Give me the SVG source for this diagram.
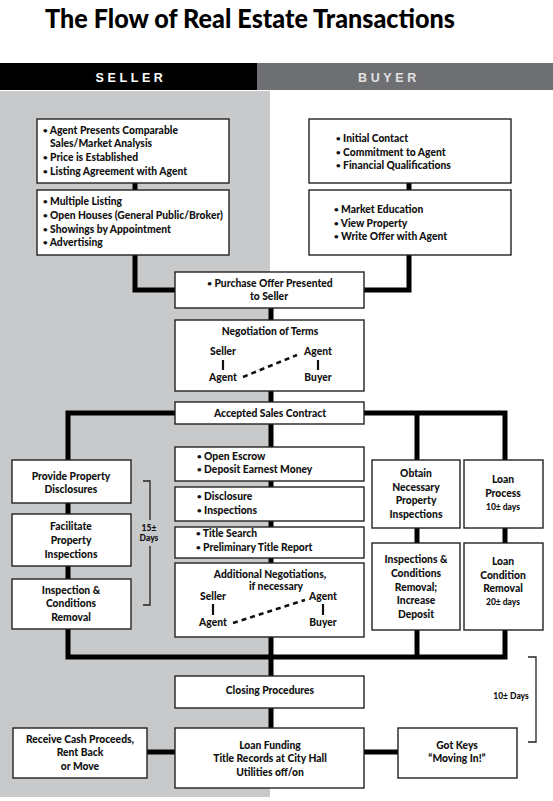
<svg xmlns="http://www.w3.org/2000/svg" width="553" height="801" viewBox="0 0 553 801">
<style>
.t{font-family:Lato,"Liberation Sans",sans-serif;font-weight:900;font-size:10.3px;fill:#111}
.c{text-anchor:middle}
.s{font-size:8.5px}
.b{font-size:8px}
.box{fill:#fff;stroke:#222;stroke-width:1.4}
.ln{fill:none;stroke:#000;stroke-width:5;stroke-linejoin:miter;stroke-linecap:butt}
.bar{stroke:#111;stroke-width:2.2}
.dash{stroke:#111;stroke-width:2.6;stroke-dasharray:5 4}
.br{fill:none;stroke:#222;stroke-width:1.3}
</style>
<rect x="0" y="0" width="553" height="801" fill="#fff"/>
<rect x="0" y="91" width="270" height="706" fill="#c8c9cb"/>
<rect x="0" y="63" width="257" height="27" fill="#000"/>
<rect x="257" y="63" width="296" height="27" fill="#6e6f73"/>
<text x="250" y="28" class="c" textLength="410" lengthAdjust="spacingAndGlyphs" style="font-family:Lato,'Liberation Sans',sans-serif;font-weight:900;font-size:26px;fill:#000">The Flow of Real Estate Transactions</text>
<text x="131" y="82" class="c" style="font-family:'Liberation Sans',sans-serif;font-weight:700;font-size:12.5px;letter-spacing:3.6px;fill:#fff">SELLER</text>
<text x="389" y="82" class="c" style="font-family:'Liberation Sans',sans-serif;font-weight:700;font-size:12.5px;letter-spacing:3.6px;fill:#e2e2e4">BUYER</text>

<g id="connectors">
<polyline class="ln" points="135,183 135,190"/>
<polyline class="ln" points="135,255 135,290 175,290"/>
<polyline class="ln" points="409,183 409,190"/>
<polyline class="ln" points="409,255 409,290 364,290"/>
<polyline class="ln" points="271,308 271,320"/>
<polyline class="ln" points="271,391 271,402"/>
<polyline class="ln" points="175,413 68,413 68,460"/>
<polyline class="ln" points="364,413 505,413 505,460"/>
<polyline class="ln" points="417,413 417,460"/>
<polyline class="ln" points="271,424 271,447"/>
<polyline class="ln" points="271,481 271,487"/>
<polyline class="ln" points="271,521 271,527"/>
<polyline class="ln" points="271,558 271,563"/>
<polyline class="ln" points="68,503 68,514"/>
<polyline class="ln" points="68,566 68,579"/>
<polyline class="ln" points="417,528 417,543"/>
<polyline class="ln" points="505,528 505,543"/>
<polyline class="ln" points="68,629 68,657 505,657 505,630"/>
<polyline class="ln" points="417,630 417,657"/>
<polyline class="ln" points="271,637 271,676"/>
<polyline class="ln" points="271,708 271,728"/>
<polyline class="ln" points="147,752 175,752"/>
<polyline class="ln" points="364,752 398,752"/>
</g>

<g id="listing">
<rect class="box" x="37" y="119" width="192" height="64"/>
<text class="t" x="43" y="134"><tspan class="b" dy="-1.5">•</tspan><tspan dy="1.5"> Agent Presents Comparable</tspan></text>
<text class="t" x="50" y="147">Sales/Market Analysis</text>
<text class="t" x="43" y="161"><tspan class="b" dy="-1.5">•</tspan><tspan dy="1.5"> Price is Established</tspan></text>
<text class="t" x="43" y="175"><tspan class="b" dy="-1.5">•</tspan><tspan dy="1.5"> Listing Agreement with Agent</tspan></text>
</g>
<g id="marketing">
<rect class="box" x="37" y="190" width="192" height="65"/>
<text class="t" x="43" y="205"><tspan class="b" dy="-1.5">•</tspan><tspan dy="1.5"> Multiple Listing</tspan></text>
<text class="t" x="43" y="219"><tspan class="b" dy="-1.5">•</tspan><tspan dy="1.5"> Open Houses (General Public/Broker)</tspan></text>
<text class="t" x="43" y="233"><tspan class="b" dy="-1.5">•</tspan><tspan dy="1.5"> Showings by Appointment</tspan></text>
<text class="t" x="43" y="246"><tspan class="b" dy="-1.5">•</tspan><tspan dy="1.5"> Advertising</tspan></text>
</g>
<g id="buyer-contact">
<rect class="box" x="309" y="119" width="202" height="64"/>
<text class="t" x="336" y="142"><tspan class="b" dy="-1.5">•</tspan><tspan dy="1.5"> Initial Contact</tspan></text>
<text class="t" x="336" y="156"><tspan class="b" dy="-1.5">•</tspan><tspan dy="1.5"> Commitment to Agent</tspan></text>
<text class="t" x="336" y="169"><tspan class="b" dy="-1.5">•</tspan><tspan dy="1.5"> Financial Qualifications</tspan></text>
</g>
<g id="buyer-search">
<rect class="box" x="309" y="190" width="202" height="65"/>
<text class="t" x="334" y="213"><tspan class="b" dy="-1.5">•</tspan><tspan dy="1.5"> Market Education</tspan></text>
<text class="t" x="334" y="227"><tspan class="b" dy="-1.5">•</tspan><tspan dy="1.5"> View Property</tspan></text>
<text class="t" x="334" y="240"><tspan class="b" dy="-1.5">•</tspan><tspan dy="1.5"> Write Offer with Agent</tspan></text>
</g>
<g id="purchase-offer">
<rect class="box" x="175" y="272" width="189" height="36"/>
<text class="t c" x="270" y="287"><tspan class="b" dy="-1.5">•</tspan><tspan dy="1.5"> Purchase Offer Presented</tspan></text>
<text class="t c" x="269" y="300">to Seller</text>
</g>
<g id="negotiation">
<rect class="box" x="175" y="320" width="189" height="71"/>
<text class="t c" x="270" y="335">Negotiation of Terms</text>
<text class="t c" x="223" y="355">Seller</text>
<line class="bar" x1="223" y1="360" x2="223" y2="370"/>
<text class="t c" x="223" y="381">Agent</text>
<text class="t c" x="318" y="355">Agent</text>
<line class="bar" x1="318" y1="360" x2="318" y2="370"/>
<text class="t c" x="318" y="381">Buyer</text>
<line class="dash" x1="243" y1="377" x2="297" y2="355"/>
</g>
<g id="accepted">
<rect class="box" x="175" y="402" width="189" height="22"/>
<text class="t c" x="270" y="417">Accepted Sales Contract</text>
</g>
<g id="disclosures">
<rect class="box" x="12" y="460" width="119" height="43"/>
<text class="t c" x="71" y="480">Provide Property</text>
<text class="t c" x="71" y="493">Disclosures</text>
</g>
<g id="facilitate">
<rect class="box" x="12" y="514" width="119" height="52"/>
<text class="t c" x="71" y="530">Facilitate</text>
<text class="t c" x="71" y="544">Property</text>
<text class="t c" x="71" y="558">Inspections</text>
</g>
<g id="seller-removal">
<rect class="box" x="12" y="579" width="119" height="50"/>
<text class="t c" x="71" y="594">Inspection &amp;</text>
<text class="t c" x="71" y="607">Conditions</text>
<text class="t c" x="71" y="621">Removal</text>
</g>
<g id="bracket-15">
<polyline class="br" points="143,481 150,481 150,520"/>
<polyline class="br" points="150,546 150,605 143,605"/>
<text class="t c s" x="149" y="531">15±</text>
<text class="t c s" x="149" y="541">Days</text>
</g>
<g id="escrow">
<rect class="box" x="175" y="447" width="189" height="34"/>
<text class="t" x="197" y="460"><tspan class="b" dy="-1.5">•</tspan><tspan dy="1.5"> Open Escrow</tspan></text>
<text class="t" x="197" y="473"><tspan class="b" dy="-1.5">•</tspan><tspan dy="1.5"> Deposit Earnest Money</tspan></text>
</g>
<g id="disclosure">
<rect class="box" x="175" y="487" width="189" height="34"/>
<text class="t" x="197" y="500"><tspan class="b" dy="-1.5">•</tspan><tspan dy="1.5"> Disclosure</tspan></text>
<text class="t" x="197" y="514"><tspan class="b" dy="-1.5">•</tspan><tspan dy="1.5"> Inspections</tspan></text>
</g>
<g id="title">
<rect class="box" x="175" y="527" width="189" height="31"/>
<text class="t" x="196" y="537"><tspan class="b" dy="-1.5">•</tspan><tspan dy="1.5"> Title Search</tspan></text>
<text class="t" x="196" y="551"><tspan class="b" dy="-1.5">•</tspan><tspan dy="1.5"> Preliminary Title Report</tspan></text>
</g>
<g id="additional">
<rect class="box" x="175" y="563" width="189" height="74"/>
<text class="t c" x="270" y="578">Additional Negotiations,</text>
<text class="t c" x="276" y="590">if necessary</text>
<text class="t c" x="213" y="600">Seller</text>
<line class="bar" x1="213" y1="604" x2="213" y2="615"/>
<text class="t c" x="213" y="626">Agent</text>
<text class="t c" x="323" y="600">Agent</text>
<line class="bar" x1="323" y1="604" x2="323" y2="615"/>
<text class="t c" x="323" y="626">Buyer</text>
<line class="dash" x1="233" y1="623" x2="305" y2="600"/>
</g>
<g id="obtain">
<rect class="box" x="372" y="460" width="88" height="68"/>
<text class="t c" x="416" y="477">Obtain</text>
<text class="t c" x="416" y="491">Necessary</text>
<text class="t c" x="416" y="504">Property</text>
<text class="t c" x="416" y="518">Inspections</text>
</g>
<g id="loan-process">
<rect class="box" x="464" y="460" width="79" height="68"/>
<text class="t c" x="503" y="483">Loan</text>
<text class="t c" x="503" y="497">Process</text>
<text class="t c s" x="503" y="510">10± days</text>
</g>
<g id="buyer-removal">
<rect class="box" x="372" y="543" width="88" height="87"/>
<text class="t c" x="416" y="563">Inspections &amp;</text>
<text class="t c" x="416" y="577">Conditions</text>
<text class="t c" x="416" y="591">Removal;</text>
<text class="t c" x="416" y="604">Increase</text>
<text class="t c" x="416" y="618">Deposit</text>
</g>
<g id="loan-removal">
<rect class="box" x="464" y="543" width="79" height="87"/>
<text class="t c" x="503" y="565">Loan</text>
<text class="t c" x="503" y="579">Condition</text>
<text class="t c" x="503" y="592">Removal</text>
<text class="t c s" x="503" y="605">20± days</text>
</g>
<g id="bracket-10">
<polyline class="br" points="528,657 536,657 536,742 528,742"/>
<text class="t c s" x="511" y="699">10± Days</text>
</g>
<g id="closing">
<rect class="box" x="175" y="676" width="189" height="32"/>
<text class="t c" x="270" y="694">Closing Procedures</text>
</g>
<g id="funding">
<rect class="box" x="175" y="728" width="189" height="60"/>
<text class="t c" x="270" y="749">Loan Funding</text>
<text class="t c" x="270" y="762">Title Records at City Hall</text>
<text class="t c" x="270" y="776">Utilities off/on</text>
</g>
<g id="cash">
<rect class="box" x="13" y="728" width="134" height="50"/>
<text class="t c" x="80" y="743">Receive Cash Proceeds,</text>
<text class="t c" x="80" y="756">Rent Back</text>
<text class="t c" x="80" y="770">or Move</text>
</g>
<g id="keys">
<rect class="box" x="398" y="728" width="119" height="50"/>
<text class="t c" x="457" y="749">Got Keys</text>
<text class="t c" x="457" y="762">“Moving In!”</text>
</g>
</svg>
